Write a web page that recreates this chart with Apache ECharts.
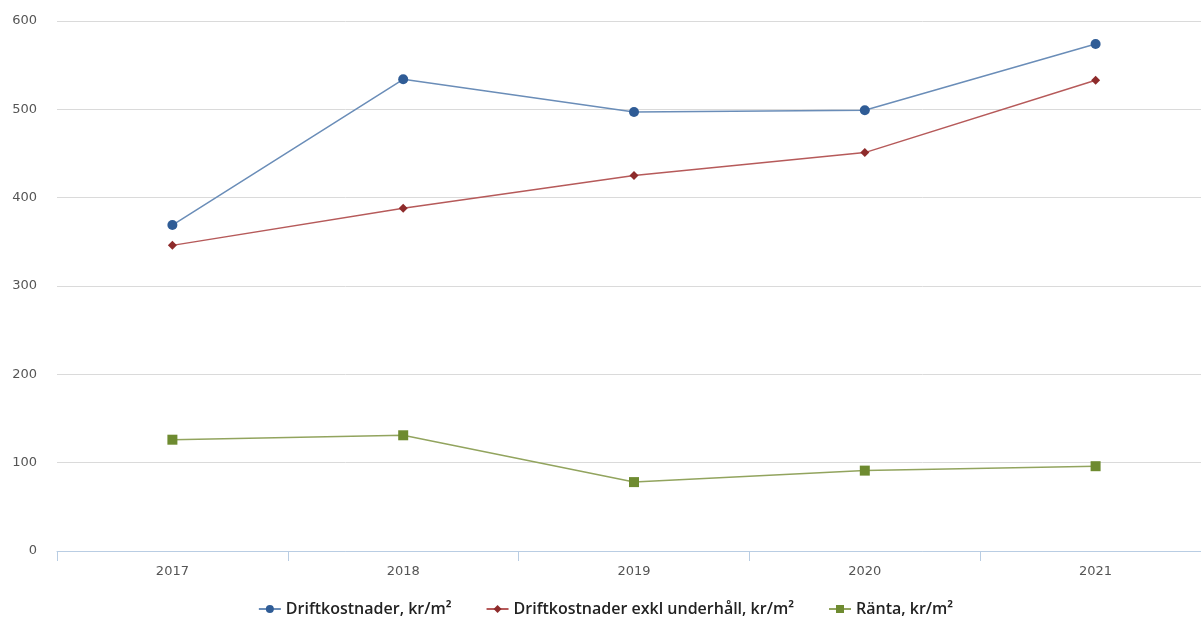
<!DOCTYPE html>
<html><head><meta charset="utf-8">
<script src="https://cdn.jsdelivr.net/npm/echarts@6/dist/echarts.min.js"></script>
<style>html,body{margin:0;padding:0;background:#fff;overflow:hidden;width:1201px;height:621px}#c{width:1211px;height:621px}</style>
</head><body><div id="c"></div>
<script>
const categories = ['2017','2018','2019','2020','2021'];
const drift = [369, 534, 497, 499, 574];
const driftExkl = [346, 388, 425, 451, 533];
const ranta = [126, 131, 78, 91, 96];
const yTicks = [0, 100, 200, 300, 400, 500, 600];

const chart = echarts.init(document.getElementById('c'));
chart.setOption({
  animation: false,
  backgroundColor: '#fff',
  grid: { left: 57, right: 0, top: 21, bottom: 70 },
  legend: {
    top: 596, left: 'center', itemGap: 34, itemWidth: 22, itemHeight: 10,
    textStyle: { fontFamily: 'Open Sans', fontSize: 16, fontWeight: 600, color: '#222' }
  },
  xAxis: {
    type: 'category', data: categories, boundaryGap: true,
    axisLine: { lineStyle: { color: '#B9CDE3' } },
    axisTick: { show: true, length: 10, lineStyle: { color: '#B9CDE3' } },
    axisLabel: { color: '#555', fontSize: 13, fontFamily: 'DejaVu Sans', margin: 14 }
  },
  yAxis: {
    type: 'value', min: yTicks[0], max: yTicks[yTicks.length-1], interval: 100,
    axisLine: { show: false }, axisTick: { show: false },
    axisLabel: { color: '#555', fontSize: 13, fontFamily: 'DejaVu Sans', margin: 20 },
    splitLine: { lineStyle: { color: '#DADADA' } }
  },
  series: [
    { name: 'Driftkostnader, kr/m²', type: 'line', data: drift,
      symbol: 'circle', symbolSize: 10,
      itemStyle: { color: '#2F5C96' }, lineStyle: { color: '#6A8DB8', width: 1.5 } },
    { name: 'Driftkostnader exkl underhåll, kr/m²', type: 'line', data: driftExkl,
      symbol: 'diamond', symbolSize: 9,
      itemStyle: { color: '#8E2B2B' }, lineStyle: { color: '#B65A5A', width: 1.5 } },
    { name: 'Ränta, kr/m²', type: 'line', data: ranta,
      symbol: 'rect', symbolSize: 10,
      itemStyle: { color: '#6E8B30' }, lineStyle: { color: '#92A45E', width: 1.5 } }
  ]
});
</script></body></html>
